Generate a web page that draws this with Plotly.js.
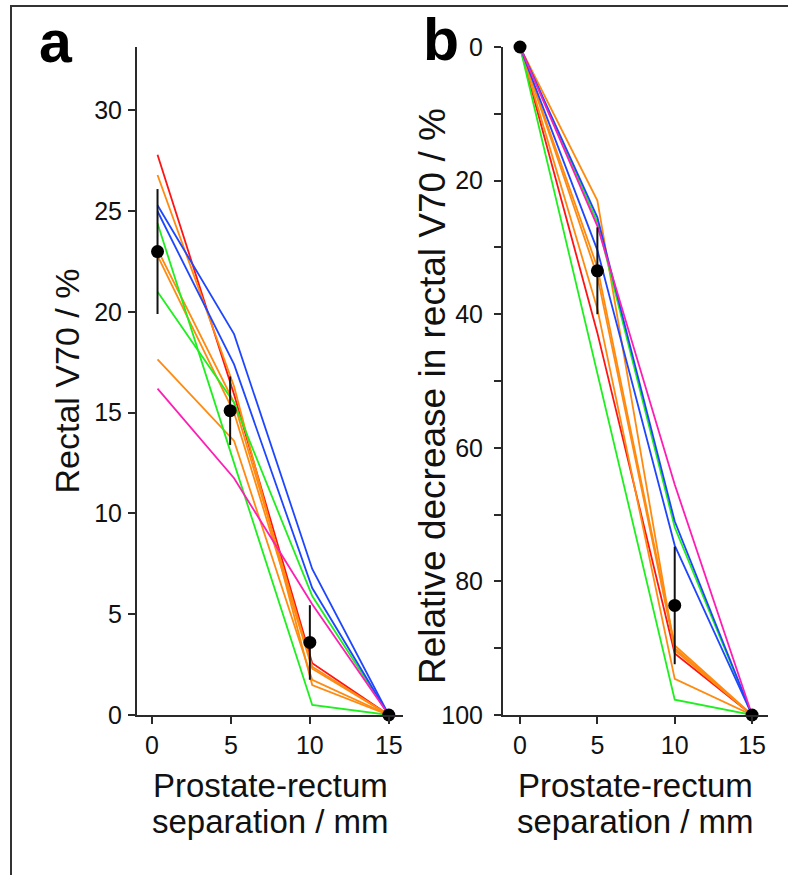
<!DOCTYPE html>
<html><head><meta charset="utf-8">
<script src="https://cdn.plot.ly/plotly-3.0.1.min.js"></script>
<style>html,body{margin:0;padding:0;background:#fff}#chart{width:788px;height:875px}</style>
</head><body><div id="chart"></div>
<script>
// ---- Panel a: Rectal V70 (%) vs prostate-rectum separation (mm) ----
const xA = [0.35, 5.2, 10.15, 15];
const xMeanA = [0.35, 4.95, 10, 15];
const aRed      = [27.8, 15.9, 2.57, 0];
const aOrange1  = [26.8, 16.3, 1.49, 0];
const aOrange2  = [23.1, 15.5, 2.4, 0];
const aOrange3  = [22.8, 15.0, 2.3, 0];
const aOrange4  = [17.65, 13.6, 1.74, 0];
const aGreen1   = [24.4, 12.5, 0.5, 0];
const aGreen2   = [21.0, 15.5, 5.9, 0];
const aBlue1    = [25.3, 18.9, 7.25, 0];
const aBlue2    = [25.0, 17.4, 6.3, 0];
const aMagenta  = [16.2, 11.75, 5.5, 0];
const aMean     = [23.0, 15.1, 3.6, 0];
const aSD       = [3.1, 1.7, 1.85, 0];

// ---- Panel b: Relative decrease in rectal V70 (%) ----
const xB = [0, 5, 10, 15];
const bRed      = [0, 42.8, 90.8, 100];
const bOrange1  = [0, 39.2, 94.6, 100];
const bOrange2  = [0, 33.0, 89.6, 100];
const bOrange3  = [0, 34.3, 90.0, 100];
const bOrange4  = [0, 23.0, 90.3, 100];
const bGreen1   = [0, 48.8, 97.7, 100];
const bGreen2   = [0, 26.2, 71.9, 100];
const bBlue1    = [0, 25.5, 71.0, 100];
const bBlue2    = [0, 30.4, 74.6, 100];
const bMagenta  = [0, 26.8, 65.5, 100];
const bMean     = [0, 33.5, 83.6, 100];
const bSD       = [0, 6.5, 8.8, 0];

const seriesA = [aRed, aOrange1, aOrange2, aOrange3, aOrange4, aGreen1, aGreen2, aBlue1, aBlue2, aMagenta];
const seriesB = [bRed, bOrange1, bOrange2, bOrange3, bOrange4, bGreen1, bGreen2, bBlue1, bBlue2, bMagenta];
const seriesColors = ['#ff1414', '#ff8a10', '#ff8a10', '#ff8a10', '#ff8a10', '#1ef01e', '#1ef01e', '#1e46ff', '#1e46ff', '#ff1eb4'];

const xTicks = [0, 5, 10, 15];
const yTicksA = [0, 5, 10, 15, 20, 25, 30];
const xTitleLines = ['Prostate-rectum', 'separation / mm'];
const yTitleA = 'Rectal V70 / %';
const yTitleB = 'Relative decrease in rectal V70 / %';

const FONT = 'Liberation Sans, Arial, Helvetica, sans-serif';
const AX = '#2a2a2a';
const TXT = '#111';

const traces = [];
seriesA.forEach((ys, i) => traces.push({
  x: xA, y: ys, xaxis: 'x', yaxis: 'y', mode: 'lines', type: 'scatter',
  line: {color: seriesColors[i], width: 1.8}, hoverinfo: 'skip', showlegend: false
}));
seriesB.forEach((ys, i) => traces.push({
  x: xB, y: ys, xaxis: 'x2', yaxis: 'y2', mode: 'lines', type: 'scatter',
  line: {color: seriesColors[i], width: 1.8}, hoverinfo: 'skip', showlegend: false
}));
traces.push({
  x: xMeanA, y: aMean, xaxis: 'x', yaxis: 'y', mode: 'markers', type: 'scatter',
  marker: {color: '#000', size: 13}, cliponaxis: false, showlegend: false,
  error_y: {type: 'data', array: aSD, visible: true, color: '#111', thickness: 2, width: 0}
});
traces.push({
  x: xB, y: bMean, xaxis: 'x2', yaxis: 'y2', mode: 'markers', type: 'scatter',
  marker: {color: '#000', size: 13}, cliponaxis: false, showlegend: false,
  error_y: {type: 'data', array: bSD, visible: true, color: '#111', thickness: 2, width: 0}
});

const axBase = {
  showline: true, linecolor: AX, linewidth: 2, ticks: 'outside', ticklen: 7, tickwidth: 2,
  tickcolor: AX, showgrid: false, zeroline: false, fixedrange: true,
  tickfont: {family: FONT, size: 25, color: TXT}
};
const yDom = [160 / 875, 828 / 875];
const xDomA = [137 / 788, 403 / 788];
const xDomB = [503 / 788, 768 / 788];

function xTitleAnn(dom, txt, ypx) {
  return {text: txt, xref: 'paper', yref: 'paper', x: (dom[0] + dom[1]) / 2, y: 1 - ypx / 875,
    xanchor: 'center', yanchor: 'middle', showarrow: false, font: {family: FONT, size: 33, color: TXT}};
}

const layout = {
  width: 788, height: 875,
  margin: {l: 0, r: 0, t: 0, b: 0},
  paper_bgcolor: '#fff', plot_bgcolor: 'rgba(0,0,0,0)',
  showlegend: false,
  xaxis: Object.assign({}, axBase, {
    domain: xDomA, range: [-0.95, 15.9], anchor: 'y',
    tickvals: xTicks, ticklabelstandoff: 0
  }),
  yaxis: Object.assign({}, axBase, {
    domain: yDom, range: [0, 33.15], anchor: 'x',
    tickvals: yTicksA, ticklabelstandoff: 1,
    title: {text: yTitleA, font: {family: FONT, size: 34, color: TXT}, standoff: 4}
  }),
  xaxis2: Object.assign({}, axBase, {
    domain: xDomB, range: [-1.1, 16.03], anchor: 'y2',
    tickvals: xTicks, ticklabelstandoff: 0
  }),
  yaxis2: Object.assign({}, axBase, {
    domain: yDom, range: [100, 0], anchor: 'x2',
    dtick: 20, tick0: 0, ticklabelstandoff: 6,
    minor: {dtick: 10, ticks: 'outside', ticklen: 7, tickwidth: 2, tickcolor: AX}
  }),
  annotations: [
    {text: '<b>a</b>', xref: 'paper', yref: 'paper', x: 56 / 788, y: 1 - 42 / 875,
     xanchor: 'center', yanchor: 'middle', showarrow: false, font: {family: FONT, size: 59, color: '#000'}},
    {text: '<b>b</b>', xref: 'paper', yref: 'paper', x: 441 / 788, y: 1 - 40 / 875,
     xanchor: 'center', yanchor: 'middle', showarrow: false, font: {family: FONT, size: 59, color: '#000'}},
    {text: yTitleB, xref: 'paper', yref: 'paper', x: 432 / 788, y: 1 - 396 / 875, textangle: -90,
     xanchor: 'center', yanchor: 'middle', showarrow: false, font: {family: FONT, size: 37, color: TXT}},
    xTitleAnn(xDomA, xTitleLines[0], 785),
    xTitleAnn(xDomA, xTitleLines[1], 821),
    xTitleAnn(xDomB, xTitleLines[0], 785),
    xTitleAnn(xDomB, xTitleLines[1], 821)
  ],
  shapes: [
    {type: 'rect', xref: 'paper', yref: 'paper', x0: 11 / 788, x1: 1.05, y0: -0.05, y1: 1 - 6 / 875,
     line: {color: '#333', width: 2}, fillcolor: 'rgba(0,0,0,0)', layer: 'below'}
  ]
};

Plotly.newPlot('chart', traces, layout, {displayModeBar: false, staticPlot: true});
</script>
</body></html>
